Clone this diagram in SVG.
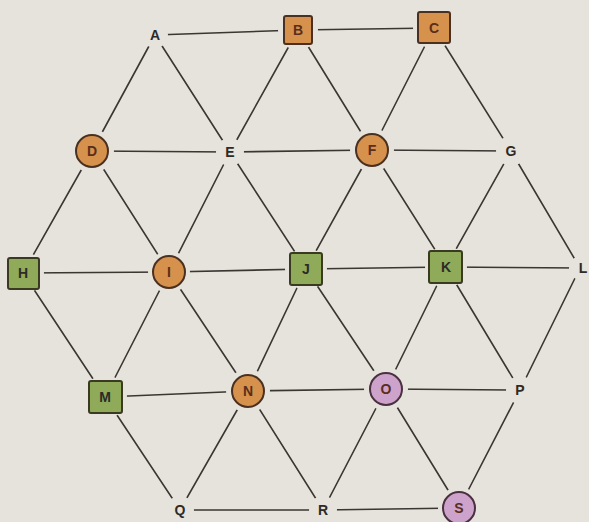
<svg xmlns="http://www.w3.org/2000/svg" width="589" height="522" viewBox="0 0 589 522">
<style>
.bg{fill:#e5e3db}
.e line{stroke:#3a3632;stroke-width:1.6;stroke-linecap:round}
.m{fill:#e5e3db}
.or{fill:#d6914c;stroke:#4a3020;stroke-width:2}
.gr{fill:#8fab59;stroke:#3a3a22;stroke-width:2}
.pk{fill:#cda2cb;stroke:#4a3040;stroke-width:2}
text{font-family:"Liberation Sans",Arial,sans-serif;font-size:14px;font-weight:bold;text-anchor:middle;dominant-baseline:central;fill:#2e2a26}
.in{fill:#5a2e1a}
</style>
<rect class="bg" width="589" height="522"/>
<g id="connectors" class="e">
<line x1="155" y1="35" x2="298" y2="30"/>
<line x1="298" y1="30" x2="434" y2="28"/>
<line x1="155" y1="35" x2="92" y2="151"/>
<line x1="155" y1="35" x2="230" y2="152"/>
<line x1="298" y1="30" x2="230" y2="152"/>
<line x1="298" y1="30" x2="372" y2="150"/>
<line x1="434" y1="28" x2="372" y2="150"/>
<line x1="434" y1="28" x2="511" y2="151"/>
<line x1="92" y1="151" x2="230" y2="152"/>
<line x1="230" y1="152" x2="372" y2="150"/>
<line x1="372" y1="150" x2="511" y2="151"/>
<line x1="92" y1="151" x2="23" y2="273"/>
<line x1="92" y1="151" x2="169" y2="272"/>
<line x1="230" y1="152" x2="169" y2="272"/>
<line x1="230" y1="152" x2="306" y2="269"/>
<line x1="372" y1="150" x2="306" y2="269"/>
<line x1="372" y1="150" x2="446" y2="267"/>
<line x1="511" y1="151" x2="446" y2="267"/>
<line x1="511" y1="151" x2="580" y2="268"/>
<line x1="23" y1="273" x2="169" y2="272"/>
<line x1="169" y1="272" x2="306" y2="269"/>
<line x1="306" y1="269" x2="446" y2="267"/>
<line x1="446" y1="267" x2="580" y2="268"/>
<line x1="23" y1="273" x2="105" y2="397"/>
<line x1="169" y1="272" x2="105" y2="397"/>
<line x1="169" y1="272" x2="248" y2="391"/>
<line x1="306" y1="269" x2="248" y2="391"/>
<line x1="306" y1="269" x2="386" y2="389"/>
<line x1="446" y1="267" x2="386" y2="389"/>
<line x1="446" y1="267" x2="520" y2="390"/>
<line x1="580" y1="268" x2="520" y2="390"/>
<line x1="105" y1="397" x2="248" y2="391"/>
<line x1="248" y1="391" x2="386" y2="389"/>
<line x1="386" y1="389" x2="520" y2="390"/>
<line x1="105" y1="397" x2="180" y2="510"/>
<line x1="248" y1="391" x2="180" y2="510"/>
<line x1="248" y1="391" x2="323" y2="510"/>
<line x1="386" y1="389" x2="323" y2="510"/>
<line x1="386" y1="389" x2="459" y2="508"/>
<line x1="520" y1="390" x2="459" y2="508"/>
<line x1="180" y1="510" x2="323" y2="510"/>
<line x1="323" y1="510" x2="459" y2="508"/>
</g>
<g id="A"><circle class="m" cx="155" cy="35" r="13"/><text x="155" y="35">A</text></g>
<g id="B"><circle class="m" cx="298" cy="30" r="20"/><rect class="or" x="284" y="16" width="28" height="28" rx="2"/><text class="in" x="298" y="30">B</text></g>
<g id="C"><circle class="m" cx="434" cy="28" r="21"/><rect class="or" x="418" y="12" width="32" height="31" rx="2"/><text class="in" x="434" y="28">C</text></g>
<g id="D"><circle class="m" cx="92" cy="151" r="22"/><circle class="or" cx="92" cy="151" r="16"/><text class="in" x="92" y="151">D</text></g>
<g id="E"><circle class="m" cx="230" cy="152" r="14"/><text x="230" y="152">E</text></g>
<g id="F"><circle class="m" cx="372" cy="150" r="22"/><circle class="or" cx="372" cy="150" r="16"/><text class="in" x="372" y="150">F</text></g>
<g id="G"><circle class="m" cx="511" cy="151" r="15"/><text x="511" y="151">G</text></g>
<g id="H"><circle class="m" cx="23" cy="273" r="21"/><rect class="gr" x="8" y="258" width="31" height="31" rx="2"/><text x="23" y="273">H</text></g>
<g id="I"><circle class="m" cx="169" cy="272" r="21"/><circle class="or" cx="169" cy="272" r="16"/><text class="in" x="169" y="272">I</text></g>
<g id="J"><circle class="m" cx="306" cy="269" r="21"/><rect class="gr" x="290" y="253" width="32" height="32" rx="2"/><text x="306" y="269">J</text></g>
<g id="K"><circle class="m" cx="446" cy="267" r="21"/><rect class="gr" x="429" y="251" width="33" height="32" rx="2"/><text x="446" y="267">K</text></g>
<g id="L"><circle class="m" cx="581" cy="268" r="12"/><text x="583" y="268">L</text></g>
<g id="M"><circle class="m" cx="105" cy="397" r="22"/><rect class="gr" x="89" y="381" width="33" height="32" rx="2"/><text x="105" y="397">M</text></g>
<g id="N"><circle class="m" cx="248" cy="391" r="22"/><circle class="or" cx="248" cy="391" r="16"/><text class="in" x="248" y="391">N</text></g>
<g id="O"><circle class="m" cx="386" cy="389" r="22"/><circle class="pk" cx="386" cy="389" r="16"/><text class="in" x="386" y="389">O</text></g>
<g id="P"><circle class="m" cx="520" cy="390" r="14"/><text x="520" y="390">P</text></g>
<g id="Q"><circle class="m" cx="180" cy="510" r="14"/><text x="180" y="510">Q</text></g>
<g id="R"><circle class="m" cx="323" cy="510" r="14"/><text x="323" y="510">R</text></g>
<g id="S"><circle class="m" cx="459" cy="508" r="21"/><circle class="pk" cx="459" cy="508" r="16"/><text class="in" x="459" y="508">S</text></g>
</svg>
